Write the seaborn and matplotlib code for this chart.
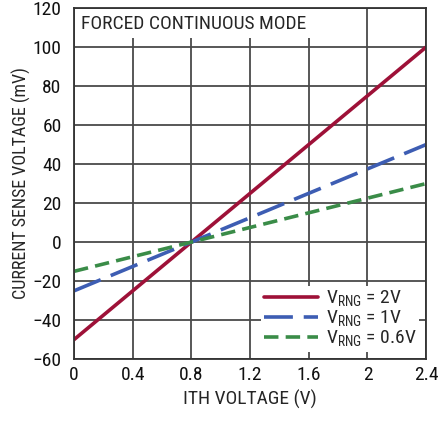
import pandas as pd
import matplotlib
matplotlib.use('Agg')
import matplotlib.pyplot as plt
from matplotlib import font_manager
import seaborn as sns

# Data
ith_voltage = [0.0, 0.8, 2.4]
sense_2v = [-50, 0, 100]
sense_1v = [-25, 0, 50]
sense_06v = [-15, 0, 30]
series_labels = [r'V$_{\mathrm{RNG}}$ = 2V', r'V$_{\mathrm{RNG}}$ = 1V', r'V$_{\mathrm{RNG}}$ = 0.6V']
x_ticks = [0, 0.4, 0.8, 1.2, 1.6, 2, 2.4]
x_tick_labels = ['0', '0.4', '0.8', '1.2', '1.6', '2', '2.4']
y_ticks = [-60, -40, -20, 0, 20, 40, 60, 80, 100, 120]

rows = []
for label, vals in zip(series_labels, [sense_2v, sense_1v, sense_06v]):
    for x, y in zip(ith_voltage, vals):
        rows.append({'ith': x, 'sense': y, 'series': label})
df = pd.DataFrame(rows)

# pick a narrow-ish font that is actually installed
installed = {f.name for f in font_manager.fontManager.ttflist}
font = 'DejaVu Sans'
for cand in ['Liberation Sans Narrow', 'Roboto Condensed', 'Roboto', 'Liberation Sans']:
    if cand in installed:
        font = cand
        break

sns.set_style('white')
plt.rcParams['font.family'] = [font, 'DejaVu Sans']
plt.rcParams['mathtext.fontset'] = 'custom'
plt.rcParams['mathtext.rm'] = font

fs = 14

fig = plt.figure(figsize=(4.38, 4.21), dpi=100)
ax = fig.add_axes([0.169, 0.147, 0.804, 0.834])

palette = ['#9E1138', '#3D5DB3', '#3A8C48']
sns.lineplot(data=df, x='ith', y='sense', hue='series', palette=palette,
             linewidth=2.6, ax=ax, legend=False)
lines = ax.get_lines()
lines[1].set_dashes([8, 3])
lines[2].set_dashes([4, 2])

ax.set_xlim(0, 2.4)
ax.set_ylim(-60, 120)
ax.set_xticks(x_ticks)
ax.set_xticklabels(x_tick_labels)
ax.set_yticks(y_ticks)
ax.set_yticklabels([str(v).replace('-', '\u2212') for v in y_ticks])
ax.grid(True, color='#4a4a4a', linewidth=1.3)
ax.set_axisbelow(True)
for s in ax.spines.values():
    s.set_color('#333333')
    s.set_linewidth(1.3)
ax.tick_params(labelsize=fs, length=0, colors='#111111')
ax.tick_params(axis='x', pad=5)
ax.tick_params(axis='y', pad=9)

ax.set_xlabel('ITH VOLTAGE (V)', fontsize=fs, labelpad=4)
ax.set_ylabel('CURRENT SENSE VOLTAGE (mV)', fontsize=13, labelpad=1)

ax.text(0.05, 112, 'FORCED CONTINUOUS MODE', fontsize=fs, va='center', ha='left',
        bbox=dict(facecolor='white', edgecolor='none', pad=4), zorder=3)

leg = ax.legend(lines, series_labels, loc='lower right', fontsize=fs,
                frameon=True, fancybox=False, edgecolor='none', framealpha=1,
                handlelength=2.8, handletextpad=0.4, borderpad=0.15,
                labelspacing=0.0, borderaxespad=0.35)

fig.savefig('out.png', dpi=100)
